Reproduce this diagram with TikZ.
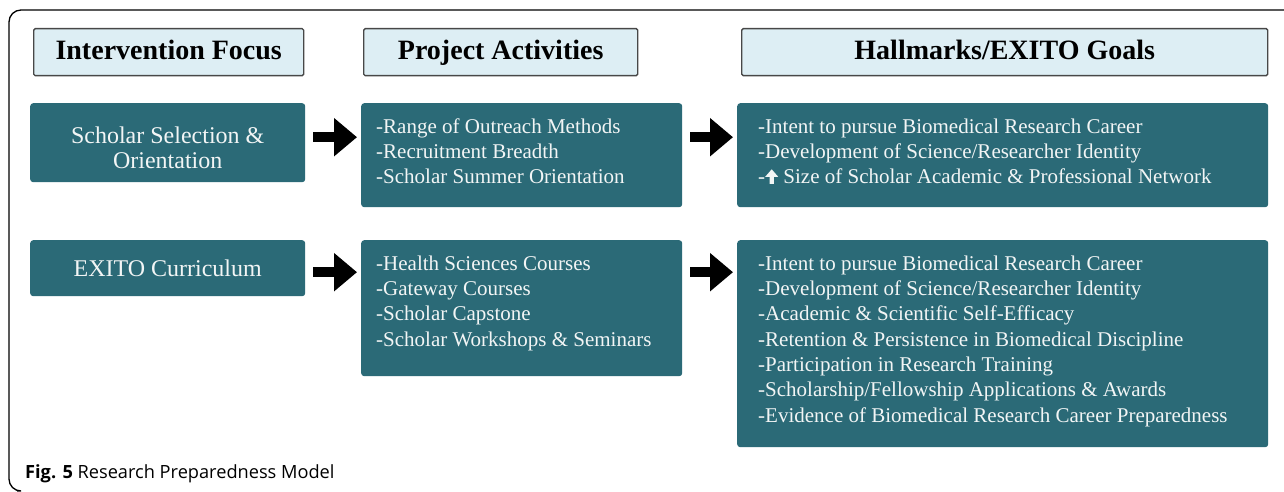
\documentclass[tikz,border=0pt]{standalone}
\usepackage{fontspec}
\setmainfont{Liberation Serif}
\newfontfamily\capfont{Open Sans}
\usetikzlibrary{arrows.meta}
\definecolor{tealbox}{HTML}{2B6A77}
\definecolor{hdrfill}{HTML}{DDEEF4}
\definecolor{hdrline}{HTML}{474747}
\definecolor{boxtext}{HTML}{F2F5F5}
\newcommand{\uparr}{\tikz[baseline=0pt,x=1pt,y=1pt]\fill[boxtext] (-2.2,0) -- (-2.2,7) -- (-6.5,7) -- (0,14.5) -- (6.5,7) -- (2.2,7) -- (2.2,0) -- cycle;}
\begin{document}
\begin{tikzpicture}[x=1pt,y=-1pt,
  hdr/.style={draw=hdrline, line width=1.4pt, fill=hdrfill, rounded corners=1.5pt, inner sep=0pt, anchor=north west, text height=19pt, text depth=5pt, font=\fontsize{28}{30}\selectfont\bfseries},
  tbox/.style={fill=tealbox, rounded corners=3pt, inner sep=0pt, anchor=north west, text=boxtext},
  lbl/.style={text=boxtext, align=left, anchor=north west, inner sep=0pt, font=\fontsize{21}{25.3}\selectfont},
  blockarrow/.style={line width=9.5pt, -{Triangle[length=23pt,width=37pt]}, shorten <=8pt, shorten >=4pt}
]
\useasboundingbox (0,0) rectangle (1284,492);
\draw[line width=1.3pt, rounded corners=12pt] (1284,10) -- (9,10) -- (9,491) -- (17,491);

% headers
\node[hdr, minimum width=270pt, minimum height=47pt] (h1) at (33,28) {Intervention Focus};
\node[hdr, minimum width=274pt, minimum height=47pt] (h2) at (363,28) {Project Activities};
\node[hdr, minimum width=526pt, minimum height=47pt] (h3) at (741,28) {Hallmarks/EXITO Goals};

% row 1
\node[tbox, minimum width=275pt, minimum height=79pt] (s1) at (30,103) {};
\node[text=boxtext, align=center, inner sep=0pt, font=\fontsize{24}{25}\selectfont] (s1t) at ([yshift=-5pt]s1.center) {Scholar Selection \&\\Orientation};
\node[tbox, minimum width=321pt, minimum height=104pt] (a1) at (361,103) {};
\node[tbox, minimum width=531pt, minimum height=104pt] (g1) at (737,103) {};
\node[lbl] (a1t) at ([xshift=15pt,yshift=-12.3pt]a1.north west) {\strut-Range of Outreach Methods\\-Recruitment Breadth\\-Scholar Summer Orientation};
\node[lbl] (g1t) at ([xshift=21pt,yshift=-12.3pt]g1.north west) {\strut-Intent to pursue Biomedical Research Career\\-Development of Science/Researcher Identity\\-\uparr\ Size of Scholar Academic \& Professional Network};

% row 2
\node[tbox, minimum width=275pt, minimum height=56pt, text height=16pt, text depth=0pt, font=\fontsize{24}{25}\selectfont] (s2) at (30,240) {EXITO Curriculum};
\node[tbox, minimum width=321pt, minimum height=136pt] (a2) at (361,240) {};
\node[tbox, minimum width=531pt, minimum height=207pt] (g2) at (737,240) {};
\node[lbl] (a2t) at ([xshift=15pt,yshift=-12.3pt]a2.north west) {\strut-Health Sciences Courses\\-Gateway Courses\\-Scholar Capstone\\-Scholar Workshops \& Seminars};
\node[lbl] (g2t) at ([xshift=21pt,yshift=-12.3pt]g2.north west) {\strut-Intent to pursue Biomedical Research Career\\-Development of Science/Researcher Identity\\-Academic \& Scientific Self-Efficacy\\-Retention \& Persistence in Biomedical Discipline\\-Participation in Research Training\\-Scholarship/Fellowship Applications \& Awards\\-Evidence of Biomedical Research Career Preparedness};

% arrows
\coordinate (r1) at ([yshift=5.5pt]s1.east);
\coordinate (r2) at ([yshift=18pt]a1.east);
\coordinate (r3) at ([yshift=-4pt]s2.east);
\coordinate (r4) at ([yshift=36pt]a2.east);
\draw[blockarrow] (r1) -- (r1 -| a1.west);
\draw[blockarrow] (r2) -- (r2 -| g1.west);
\draw[blockarrow] (r3) -- (r3 -| a2.west);
\draw[blockarrow] (r4) -- (r4 -| g2.west);

% caption
\node[anchor=base west, inner sep=0pt, font=\capfont\fontsize{18.2}{20}\selectfont] (cap) at (25,478) {\textbf{Fig. 5} Research Preparedness Model};
\end{tikzpicture}
\end{document}
